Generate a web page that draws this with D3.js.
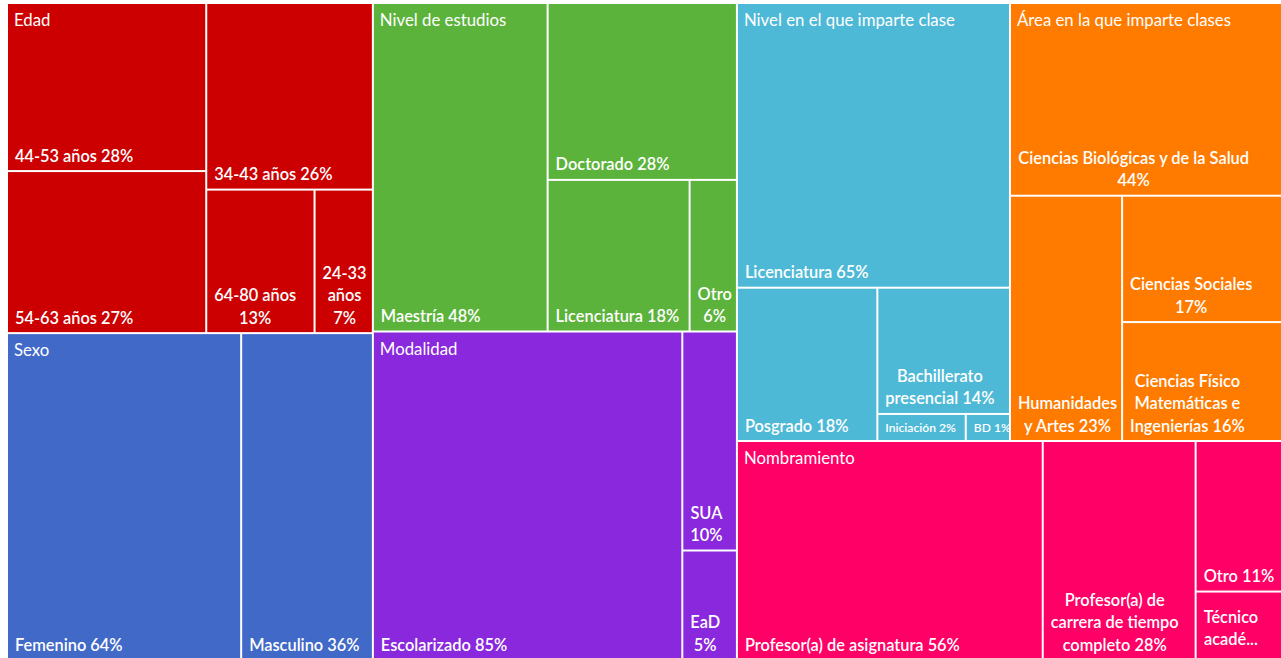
<!DOCTYPE html>
<html><head><meta charset="utf-8">
<script src="https://cdn.jsdelivr.net/npm/d3@7"></script>
<style>html,body{margin:0;padding:0;background:#fff} svg{display:block}</style>
</head><body>
<svg id="chart" width="1281" height="658"></svg>
<script>
// ---------- DATA ----------
const groupNames = ["Edad", "Sexo", "Nivel de estudios", "Modalidad",
  "Nivel en el que imparte clase", "Área en la que imparte clases", "Nombramiento"];

const edadCats = ["44-53 años", "54-63 años", "34-43 años", "64-80 años", "24-33 años"];
const edadVals = [28, 27, 26, 13, 7];

const sexoCats = ["Femenino", "Masculino"];
const sexoVals = [64, 36];

const estudiosCats = ["Maestría", "Doctorado", "Licenciatura", "Otro"];
const estudiosVals = [48, 28, 18, 6];

const modalidadCats = ["Escolarizado", "SUA", "EaD"];
const modalidadVals = [85, 10, 5];

const nivelCats = ["Licenciatura", "Posgrado", "Bachillerato presencial", "Iniciación", "BD"];
const nivelVals = [65, 18, 14, 2, 1];

const areaCats = ["Ciencias Biológicas y de la Salud", "Humanidades y Artes", "Ciencias Sociales",
  "Ciencias Físico Matemáticas e Ingenierías"];
const areaVals = [44, 23, 17, 16];

const nombCats = ["Profesor(a) de asignatura", "Profesor(a) de carrera de tiempo completo", "Otro", "Técnico académico"];
const nombVals = [56, 28, 11, 5];

// ---------- STYLE ----------
const groupColors = ["#CC0000", "#4169C8", "#5CB33C", "#8A28DD", "#4EB9D6", "#FF7B00", "#FF0066"];

const allCats = [edadCats, sexoCats, estudiosCats, modalidadCats, nivelCats, areaCats, nombCats];
const allVals = [edadVals, sexoVals, estudiosVals, modalidadVals, nivelVals, areaVals, nombVals];

const W = 1281, H = 658;
const X0 = 8, Y0 = 4;
const svg = d3.select("#chart");

const rootData = {
  name: "root",
  children: groupNames.map((g, i) => ({
    name: g, gi: i,
    children: allCats[i].map((c, j) => ({ name: c, value: allVals[i][j], gi: i }))
  }))
};

// squarify with a target ratio below 1 (closer to the spreadsheet layout)
function squarifyLike(ratio) {
  return function (parent, x0, y0, x1, y1) {
    const nodes = parent.children, n = nodes.length;
    let i0 = 0, i1 = 0, value = parent.value;
    let dx, dy, sumValue, minValue, maxValue, newRatio, minRatio, alpha, beta, nodeValue;
    while (i0 < n) {
      dx = x1 - x0; dy = y1 - y0;
      do sumValue = nodes[i1++].value; while (!sumValue && i1 < n);
      minValue = maxValue = sumValue;
      alpha = Math.max(dy / dx, dx / dy) / (value * ratio);
      beta = sumValue * sumValue * alpha;
      minRatio = Math.max(maxValue / beta, beta / minValue);
      for (; i1 < n; ++i1) {
        sumValue += nodeValue = nodes[i1].value;
        if (nodeValue < minValue) minValue = nodeValue;
        if (nodeValue > maxValue) maxValue = nodeValue;
        beta = sumValue * sumValue * alpha;
        newRatio = Math.max(maxValue / beta, beta / minValue);
        if (newRatio > minRatio) { sumValue -= nodeValue; break; }
        minRatio = newRatio;
      }
      const row = { value: sumValue, children: nodes.slice(i0, i1) };
      if (dx < dy) d3.treemapDice(row, x0, y0, x1, value ? y0 += dy * sumValue / value : y1);
      else d3.treemapSlice(row, x0, y0, value ? x0 += dx * sumValue / value : x1, y1);
      value -= sumValue; i0 = i1;
    }
  };
}

const root = d3.hierarchy(rootData).sum(d => d.value || 0);
d3.treemap()
  .tile(squarifyLike(0.86))
  .size([W + 1 - X0, H + 1 - Y0])
  .paddingInner(2)(root);

const g = svg.append("g").attr("transform", `translate(${X0},${Y0})`);

const leaves = root.leaves();
g.selectAll("rect.cell").data(leaves).join("rect")
  .attr("class", "cell")
  .attr("x", d => d.x0).attr("y", d => d.y0)
  .attr("width", d => d.x1 - d.x0).attr("height", d => d.y1 - d.y0)
  .attr("fill", d => groupColors[d.data.gi]);

// ---------- TEXT ----------
const FAMILY = "Lato, 'Open Sans', sans-serif";
const ctx = document.createElement("canvas").getContext("2d");
function tw(s, font) { ctx.font = font; return ctx.measureText(s).width; }

const LW = 600, TWt = 400;
let labelSize = 16 * 218 / (tw("Femenino 64%", `${LW} 16px ${FAMILY}`) + tw("Masculino 36%", `${LW} 16px ${FAMILY}`));
let titleSize = 16 * 211 / tw("Nivel en el que imparte clase", `${TWt} 16px ${FAMILY}`);
const labelFont = `${LW} ${labelSize}px ${FAMILY}`;
const smallSize = labelSize * 0.74;
const smallFont = `${LW} ${smallSize}px ${FAMILY}`;

function wrap(text, font, maxW) {
  const words = text.split(" ");
  const lines = [];
  let cur = "";
  for (let w of words) {
    while (tw(w, font) > maxW && w.length > 1) {
      if (cur) { lines.push(cur); cur = ""; }
      let k = w.length;
      while (k > 1 && tw(w.slice(0, k), font) > maxW) k--;
      lines.push(w.slice(0, k));
      w = w.slice(k);
    }
    const t = cur ? cur + " " + w : w;
    if (!cur || tw(t, font) <= maxW) cur = t;
    else { lines.push(cur); cur = w; }
  }
  if (cur) lines.push(cur);
  return lines;
}

const PAD = 7, LINE_H = 22.5, BOTTOM = 8.5;
const labelG = g.append("g").attr("fill", "#fff");

leaves.forEach(d => {
  const w = d.x1 - d.x0, h = d.y1 - d.y0;
  const text = `${d.data.name} ${d.data.value}%`;
  if (h < 36) {
    labelG.append("text")
      .attr("x", d.x0 + PAD).attr("y", d.y0 + h / 2 + smallSize * 0.4)
      .style("font", smallFont)
      .text(text);
    return;
  }
  let lines = wrap(text, labelFont, w - 11);
  if (lines.length === 1) {
    labelG.append("text")
      .attr("x", d.x0 + PAD).attr("y", d.y1 - BOTTOM)
      .style("font", labelFont)
      .text(text);
    return;
  }
  const maxLines = Math.max(1, Math.floor((h - 10) / LINE_H));
  let baselines;
  if (lines.length > maxLines) {
    lines = lines.slice(0, maxLines);
    const last = lines[maxLines - 1];
    lines[maxLines - 1] = last.slice(0, Math.max(1, last.length - 3)) + "...";
    const cy = (d.y0 + d.y1) / 2;
    baselines = lines.map((_, i) => cy + (i - (lines.length - 1) / 2) * LINE_H + 8);
  } else {
    baselines = lines.map((_, i) => d.y1 - BOTTOM - (lines.length - 1 - i) * LINE_H);
  }
  const blockW = d3.max(lines, l => tw(l, labelFont));
  const cx = d.x0 + PAD + blockW / 2;
  lines.forEach((l, i) => {
    labelG.append("text")
      .attr("x", cx).attr("y", baselines[i])
      .attr("text-anchor", "middle")
      .style("font", labelFont)
      .text(l);
  });
});

// group titles
g.append("g").attr("fill", "#fff")
  .selectAll("text").data(root.children).join("text")
  .attr("x", d => d.x0 + PAD - 1)
  .attr("y", d => d.y0 + 22)
  .style("font", `${TWt} ${titleSize}px ${FAMILY}`)
  .text(d => d.data.name);
</script>
</body></html>
